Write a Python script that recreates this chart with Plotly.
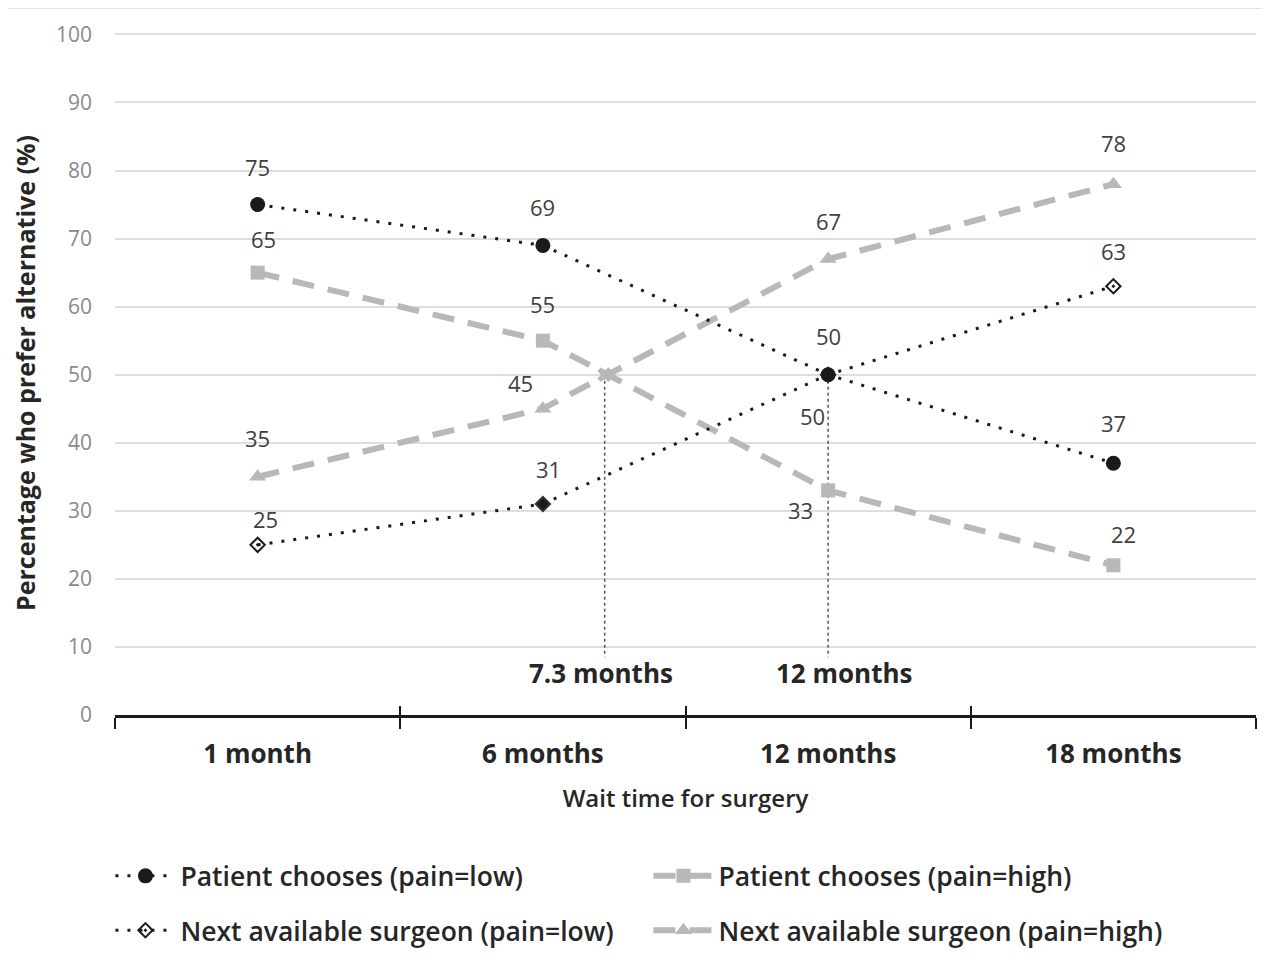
import plotly.graph_objects as go

# ---------------- data ----------------
categories = ["1 month", "6 months", "12 months", "18 months"]
months = [1, 6, 12, 18]
pc_low = [75, 69, 50, 37]      # Patient chooses (pain=low)
pc_high = [65, 55, 33, 22]     # Patient chooses (pain=high)
na_low = [25, 31, 50, 63]      # Next available surgeon (pain=low)
na_high = [35, 45, 67, 78]     # Next available surgeon (pain=high)
cross_months = [7.3, 12]       # indifference points
cross_value = 50
cross_labels = ["7.3 months", "12 months"]
y_ticks = list(range(0, 101, 10))

# ---------------- helpers ----------------
xpos = list(range(len(categories)))


def month_to_x(m):
    for i in range(len(months) - 1):
        if months[i] <= m <= months[i + 1]:
            return xpos[i] + (m - months[i]) / (months[i + 1] - months[i])
    return xpos[-1]


BLACK = "#1a1a1a"
GREY = "#b8b8b8"
FONT = "Open Sans"
LABEL_COLOR = "#404040"

fig = go.Figure()

# vertical guide lines
cross_x = [month_to_x(m) for m in cross_months]
for cx in cross_x:
    fig.add_trace(go.Scatter(
        x=[cx, cx], y=[cross_value, 8.5], mode="lines",
        line=dict(color="#555555", width=1.5, dash="3px,3px"),
        showlegend=False, hoverinfo="skip"))

tr_pc_high = go.Scatter(
    x=xpos, y=pc_high, mode="lines+markers", name="Patient chooses (pain=high)",
    line=dict(color=GREY, width=6, dash="22px,14px"),
    marker=dict(symbol="square", size=14, color=GREY), legend="legend", legendrank=2)
tr_na_high = go.Scatter(
    x=xpos, y=na_high, mode="lines+markers", name="Next available surgeon (pain=high)",
    line=dict(color=GREY, width=6, dash="22px,14px"),
    marker=dict(symbol="triangle-up", size=15, color=GREY), legend="legend2", legendrank=2)
tr_cross = go.Scatter(
    x=[cross_x[0]], y=[cross_value], mode="markers",
    marker=dict(symbol="x", size=13, color=GREY), showlegend=False, hoverinfo="skip")
tr_na_low = go.Scatter(
    x=xpos, y=na_low, mode="lines+markers", name="Next available surgeon (pain=low)",
    line=dict(color=BLACK, width=3, dash="3px,9px"),
    marker=dict(symbol=["diamond-open-dot", "diamond", "diamond", "diamond-open-dot"],
                size=11, color=BLACK, line=dict(width=2, color="#333333")),
    legend="legend2", legendrank=1)
tr_pc_low = go.Scatter(
    x=xpos, y=pc_low, mode="lines+markers", name="Patient chooses (pain=low)",
    line=dict(color=BLACK, width=3, dash="3px,9px"),
    marker=dict(symbol="circle", size=15, color=BLACK), legend="legend", legendrank=1)

for t in [tr_pc_high, tr_na_high, tr_cross, tr_na_low, tr_pc_low]:
    fig.add_trace(t)

# ---------------- data labels ----------------
# (dx, dy) pixel offsets per series/point
off_pc_low = [(0, 38), (0, 38), (0, 39), (0, 40)]
off_pc_high = [(6, 34), (0, 37), (-28, -20), (10, 31)]
off_na_low = [(8, 26), (6, 35), (-16, -41), (0, 35)]
off_na_high = [(0, 39), (-22, 26), (0, 38), (0, 41)]

annotations = []
for vals, offs in [(pc_low, off_pc_low), (pc_high, off_pc_high),
                   (na_low, off_na_low), (na_high, off_na_high)]:
    for x, v, (dx, dy) in zip(xpos, vals, offs):
        annotations.append(dict(
            x=x, y=v, text=str(v), showarrow=False, xshift=dx, yshift=dy,
            font=dict(family=FONT, size=22, color=LABEL_COLOR)))

cross_label_dx = [-4, 16]
for cx, lab, dx in zip(cross_x, cross_labels, cross_label_dx):
    annotations.append(dict(
        x=cx, y=6.2, text="<b>" + lab + "</b>", showarrow=False, xshift=dx,
        font=dict(family=FONT, size=26, color="#262626")))

legend_common = dict(orientation="h", xanchor="left", yanchor="top",
                     entrywidth=463, entrywidthmode="pixels",
                     font=dict(family=FONT, size=26.5, color="#262626", weight=600),
                     itemwidth=60, traceorder="normal")

fig.update_layout(
    width=1262, height=961,
    margin=dict(l=107, r=14, t=21, b=254),
    plot_bgcolor="white", paper_bgcolor="white",
    font=dict(family=FONT, color="#262626"),
    annotations=annotations,
    xaxis=dict(
        range=[-0.5, 3.5], tickmode="array", tickvals=xpos,
        ticktext=["<b>" + c + "</b>" for c in categories],
        tickfont=dict(family=FONT, size=26, color="#262626"),
        ticks="", showgrid=False, zeroline=False,
        showline=True, linecolor="#1a1a1a", linewidth=3,
        ticklabelstandoff=14,
        minor=dict(tickmode="array", tickvals=[-0.5, 0.5, 1.5, 2.5, 3.5],
                   ticks="outside", ticklen=11, tickwidth=1.5, tickcolor="#1a1a1a",
                   showgrid=False),
        title=dict(text="Wait time for surgery", standoff=20,
                   font=dict(family=FONT, size=24, color="#262626", weight=600)),
    ),
    xaxis2=dict(
        range=[-0.5, 3.5], overlaying="x", matches="x", side="bottom",
        tickmode="array", tickvals=[-0.5, 0.5, 1.5, 2.5, 3.5],
        ticks="inside", ticklen=9, tickwidth=1.5, tickcolor="#1a1a1a",
        showticklabels=False, showgrid=False, zeroline=False, showline=False,
    ),
    yaxis=dict(
        range=[0, 100.5], tickmode="array", tickvals=y_ticks,
        tickfont=dict(family=FONT, size=21, color="#8a8a8a"),
        showgrid=True, gridcolor="#dedede", gridwidth=1.5,
        zeroline=False, showline=False, ticks="", ticklabelstandoff=22,
        title=dict(text="<b>Percentage who prefer alternative (%)</b>", standoff=18,
                   font=dict(family=FONT, size=25, color="#262626")),
    ),
    legend=dict(x=-0.004, y=-0.2005, **legend_common),
    legend2=dict(x=-0.004, y=-0.280, **legend_common),
    shapes=[dict(type="line", xref="paper", yref="paper", x0=-0.11, x1=1.02,
                 y0=1.034, y1=1.034, line=dict(color="#dcdcdc", width=2))],
)

# invisible trace on xaxis2 so its ticks render
fig.add_trace(go.Scatter(x=[-0.5], y=[0], xaxis="x2", mode="markers",
                         marker=dict(opacity=0), showlegend=False, hoverinfo="skip"))

fig.write_html("out.html")
